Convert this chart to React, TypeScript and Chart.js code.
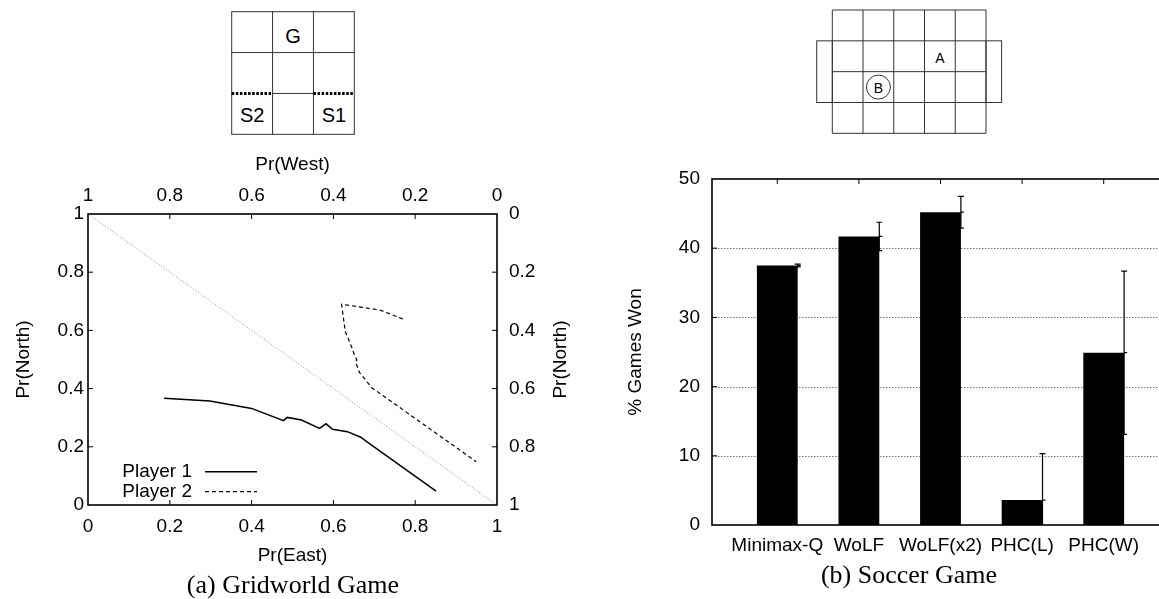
import React, { useEffect, useRef } from 'react';
import { Chart, registerables } from 'chart.js';

Chart.register(...registerables);

const SANS = "'Liberation Sans', Arial, Helvetica, sans-serif";
const SERIF = "'Liberation Serif', 'Times New Roman', serif";

// ---------- (a) Gridworld game ----------
const p1East = [0.186, 0.298, 0.4, 0.478, 0.487, 0.522, 0.566, 0.582, 0.598, 0.634, 0.667, 0.678, 0.851];
const p1North = [0.367, 0.357, 0.332, 0.29, 0.301, 0.292, 0.263, 0.279, 0.26, 0.252, 0.233, 0.221, 0.048];
const p2East = [0.77, 0.714, 0.62, 0.629, 0.641, 0.653, 0.657, 0.655, 0.664, 0.694, 0.949];
const p2North = [0.639, 0.67, 0.69, 0.596, 0.556, 0.51, 0.5, 0.488, 0.455, 0.403, 0.149];
const diagEast = [0, 1];
const diagNorth = [1, 0];
const playerNames = ['Player 1', 'Player 2'];
const axisEast = 'Pr(East)';
const axisWest = 'Pr(West)';
const axisNorth = 'Pr(North)';

// ---------- (b) Soccer game ----------
const algorithms = ['Minimax-Q', 'WoLF', 'WoLF(x2)', 'PHC(L)', 'PHC(W)'];
const gamesWon = [37.5, 41.7, 45.2, 3.6, 24.9];
const gamesWonErr = [0.2, 2.05, 2.3, 6.7, 11.8];
const axisWon = '% Games Won';

const captionA = '(a) Gridworld Game';
const captionB = '(b) Soccer Game';

const BAR_WIDTH = 0.5; // in x-units

Chart.defaults.color = '#000';
Chart.defaults.font.family = SANS;
Chart.defaults.font.size = 19;

const fmt = (v: any) => String(Number(Number(v).toFixed(3)));

function frameAndTicks(mirror: boolean, tickLen = 5) {
  return {
    id: 'frameAndTicks',
    afterDatasetsDraw(chart: any) {
      const { ctx, chartArea: a } = chart;
      ctx.save();
      ctx.strokeStyle = '#000';
      ctx.lineWidth = 1;
      ctx.setLineDash([]);
      ctx.beginPath();
      Object.values(chart.scales).forEach((s: any) => {
        const horiz = s.isHorizontal();
        const sides = mirror ? (horiz ? ['top', 'bottom'] : ['left', 'right']) : [s.position];
        s.ticks.forEach((t: any) => {
          if (t.value <= s.min || t.value >= s.max) return;
          const p = s.getPixelForValue(t.value);
          sides.forEach((side: string) => {
            if (side === 'bottom') { ctx.moveTo(p, a.bottom); ctx.lineTo(p, a.bottom - tickLen); }
            else if (side === 'top') { ctx.moveTo(p, a.top); ctx.lineTo(p, a.top + tickLen); }
            else if (side === 'left') { ctx.moveTo(a.left, p); ctx.lineTo(a.left + tickLen, p); }
            else { ctx.moveTo(a.right, p); ctx.lineTo(a.right - tickLen, p); }
          });
        });
      });
      ctx.stroke();
      ctx.lineWidth = 1.6;
      ctx.strokeRect(a.left, a.top, a.right - a.left, a.bottom - a.top);
      ctx.restore();
    },
  };
}

const sideTitle = {
  id: 'sideTitle',
  afterDraw(chart: any) {
    const { ctx, chartArea: a } = chart;
    ctx.save();
    ctx.translate(a.right + 64, (a.top + a.bottom) / 2);
    ctx.rotate(-Math.PI / 2);
    ctx.font = `19px ${SANS}`;
    ctx.fillStyle = '#000';
    ctx.textAlign = 'center';
    ctx.textBaseline = 'middle';
    ctx.fillText(axisNorth, 0, 0);
    ctx.restore();
  },
};

const insideLegend = {
  id: 'insideLegend',
  afterDatasetsDraw(chart: any) {
    const { ctx, chartArea: a } = chart;
    const entries = chart.data.datasets.filter((d: any) => d.label);
    ctx.save();
    entries.forEach((d: any, i: number) => {
      const y = a.bottom - 33.3 + i * 20;
      ctx.font = `19px ${SANS}`;
      ctx.fillStyle = '#000';
      ctx.textAlign = 'right';
      ctx.textBaseline = 'middle';
      ctx.fillText(d.label, a.left + 104, y);
      ctx.beginPath();
      ctx.setLineDash(d.borderDash || []);
      ctx.lineWidth = d.borderWidth;
      ctx.strokeStyle = d.borderColor;
      ctx.moveTo(a.left + 117, y);
      ctx.lineTo(a.left + 169, y);
      ctx.stroke();
    });
    ctx.restore();
  },
};

const gridLines = {
  id: 'gridLines',
  beforeDatasetsDraw(chart: any) {
    const { ctx, chartArea: a } = chart;
    const ys = chart.scales.y;
    ctx.save();
    ctx.strokeStyle = '#777';
    ctx.lineWidth = 1;
    ctx.setLineDash([1.5, 1.5]);
    ctx.beginPath();
    ys.ticks.forEach((t: any) => {
      if (t.value <= ys.min || t.value >= ys.max) return;
      const p = Math.round(ys.getPixelForValue(t.value)) + 0.5;
      ctx.moveTo(a.left, p);
      ctx.lineTo(a.right, p);
    });
    ctx.stroke();
    ctx.restore();
  },
};

const errorBars = {
  id: 'errorBars',
  afterDatasetsDraw(chart: any) {
    const { ctx, chartArea: a } = chart;
    const xs = chart.scales.x;
    const ys = chart.scales.y;
    ctx.save();
    ctx.beginPath();
    ctx.rect(a.left, a.top, a.right - a.left, a.bottom - a.top);
    ctx.clip();
    ctx.strokeStyle = '#000';
    ctx.lineWidth = 1.2;
    ctx.beginPath();
    gamesWon.forEach((v, i) => {
      const e = gamesWonErr[i];
      const x = xs.getPixelForValue(i + 1 + BAR_WIDTH / 2);
      const yT = ys.getPixelForValue(v + e);
      const yB = ys.getPixelForValue(v - e);
      const yV = ys.getPixelForValue(v);
      ctx.moveTo(x, yT); ctx.lineTo(x, yB);
      ctx.moveTo(x - 3, yT); ctx.lineTo(x + 3, yT);
      ctx.moveTo(x - 3, yB); ctx.lineTo(x + 3, yB);
      ctx.moveTo(x, yV); ctx.lineTo(x + 3, yV);
    });
    ctx.stroke();
    ctx.restore();
  },
};

const baseTicks = { autoSkip: false, maxRotation: 0, minRotation: 0, color: '#000', font: { size: 19, family: SANS } };

function GridworldChart() {
  const ref = useRef<HTMLCanvasElement>(null);
  useEffect(() => {
    const chart = new Chart(ref.current as HTMLCanvasElement, {
      type: 'scatter',
      data: {
        datasets: [
          {
            data: diagEast.map((x, i) => ({ x, y: diagNorth[i] })),
            showLine: true, borderColor: '#888', borderWidth: 1, borderDash: [1, 2], pointRadius: 0,
          },
          {
            label: playerNames[0],
            data: p1East.map((x, i) => ({ x, y: p1North[i] })),
            showLine: true, borderColor: '#000', borderWidth: 1.5, pointRadius: 0,
          },
          {
            label: playerNames[1],
            data: p2East.map((x, i) => ({ x, y: p2North[i] })),
            showLine: true, borderColor: '#000', borderWidth: 1.2, borderDash: [4, 3], pointRadius: 0,
          },
        ],
      } as any,
      options: {
        animation: false,
        responsive: false,
        events: [],
        layout: { padding: 0 },
        plugins: { legend: { display: false }, tooltip: { enabled: false } },
        scales: {
          x: {
            type: 'linear', position: 'bottom', min: 0, max: 1,
            grid: { display: false, drawTicks: false }, border: { display: false },
            ticks: { ...baseTicks, stepSize: 0.2, padding: 10, callback: fmt },
            title: { display: true, text: axisEast, font: { size: 19, family: SANS }, padding: { top: 0, bottom: 13 } },
            afterFit: (s: any) => { s.height = 75; },
          },
          x2: {
            type: 'linear', position: 'top', min: 0, max: 1, reverse: true,
            grid: { display: false, drawTicks: false }, border: { display: false },
            ticks: { ...baseTicks, stepSize: 0.2, padding: 7, callback: fmt },
            title: { display: true, text: axisWest, font: { size: 19, family: SANS }, padding: { top: 13, bottom: 0 } },
            afterFit: (s: any) => { s.height = 74; },
          },
          y: {
            type: 'linear', position: 'left', min: 0, max: 1,
            grid: { display: false, drawTicks: false }, border: { display: false },
            ticks: { ...baseTicks, stepSize: 0.2, padding: 4, callback: fmt },
            title: { display: true, text: axisNorth, font: { size: 19, family: SANS }, padding: { top: 12.5, bottom: 0 } },
            afterFit: (s: any) => { s.width = 88; },
          },
          y2: {
            type: 'linear', position: 'right', min: 0, max: 1, reverse: true,
            grid: { display: false, drawTicks: false }, border: { display: false },
            ticks: { ...baseTicks, stepSize: 0.2, padding: 12, callback: fmt },
            title: { display: false },
            afterFit: (s: any) => { s.width = 103; },
          },
        },
      } as any,
      plugins: [frameAndTicks(false), insideLegend, sideTitle],
    });
    return () => chart.destroy();
  }, []);
  return (
    <canvas ref={ref} width={600} height={440}
      style={{ position: 'absolute', left: 0, top: 140, width: 600, height: 440 }} />
  );
}

function SoccerChart() {
  const ref = useRef<HTMLCanvasElement>(null);
  useEffect(() => {
    const chart = new Chart(ref.current as HTMLCanvasElement, {
      type: 'bar',
      data: {
        datasets: [
          {
            label: axisWon,
            data: algorithms.map((_, i) => ({ x: i + 1, y: gamesWon[i] })),
            backgroundColor: '#000',
            borderWidth: 0,
            categoryPercentage: BAR_WIDTH,
            barPercentage: 1,
          },
        ],
      } as any,
      options: {
        animation: false,
        responsive: false,
        events: [],
        layout: { padding: { top: 29, left: 0, right: 0, bottom: 0 } },
        plugins: { legend: { display: false }, tooltip: { enabled: false } },
        scales: {
          x: {
            type: 'linear', position: 'bottom', min: 0.2, max: 5.8, offset: false,
            grid: { display: false, drawTicks: false }, border: { display: false },
            afterBuildTicks: (s: any) => { s.ticks = algorithms.map((_, i) => ({ value: i + 1 })); },
            ticks: { ...baseTicks, padding: 9, callback: (v: any) => algorithms[Math.round(v) - 1] ?? '' },
            afterFit: (s: any) => { s.height = 55; },
          },
          y: {
            type: 'linear', position: 'left', min: 0, max: 50,
            grid: { display: false, drawTicks: false }, border: { display: false },
            ticks: { ...baseTicks, stepSize: 10, padding: 12, callback: fmt },
            title: { display: true, text: axisWon, font: { size: 19, family: SANS }, padding: { top: 34, bottom: 0 } },
            afterFit: (s: any) => { s.width = 122; },
          },
        },
      } as any,
      plugins: [gridLines, errorBars, frameAndTicks(true)],
    });
    return () => chart.destroy();
  }, []);
  return (
    <canvas ref={ref} width={579} height={430}
      style={{ position: 'absolute', left: 590, top: 150, width: 579, height: 430 }} />
  );
}

function Diagrams() {
  const gx = 231.7, gy = 11.7, gc = 40.87;
  const sx = 832.3, sy = 10, sw = 30.74, sh = 30.83, ext = 15.6;
  const line = { stroke: '#333', strokeWidth: 1, fill: 'none' };
  const cols = [0, 1, 2, 3, 4, 5];
  const rows = [0, 1, 2, 3, 4];
  return (
    <svg width={1159} height={140} style={{ position: 'absolute', left: 0, top: 0 }}>
      {/* gridworld */}
      <rect x={gx} y={gy} width={3 * gc} height={3 * gc} {...line} />
      <line x1={gx + gc} y1={gy} x2={gx + gc} y2={gy + 3 * gc} {...line} />
      <line x1={gx + 2 * gc} y1={gy} x2={gx + 2 * gc} y2={gy + 3 * gc} {...line} />
      <line x1={gx} y1={gy + gc} x2={gx + 3 * gc} y2={gy + gc} {...line} />
      <line x1={gx + gc} y1={gy + 2 * gc} x2={gx + 2 * gc} y2={gy + 2 * gc} {...line} />
      <line x1={gx} y1={gy + 2 * gc} x2={gx + gc} y2={gy + 2 * gc} stroke="#000" strokeWidth={3} strokeDasharray="2.5 1.6" />
      <line x1={gx + 2 * gc} y1={gy + 2 * gc} x2={gx + 3 * gc} y2={gy + 2 * gc} stroke="#000" strokeWidth={3} strokeDasharray="2.5 1.6" />
      <g fontFamily={SANS} fontSize={20} textAnchor="middle" dominantBaseline="central" fill="#000">
        <text x={gx + 1.5 * gc} y={gy + 0.5 * gc + 4}>G</text>
        <text x={gx + 0.5 * gc} y={gy + 2.5 * gc + 1}>S2</text>
        <text x={gx + 2.5 * gc} y={gy + 2.5 * gc + 1}>S1</text>
      </g>
      {/* soccer field */}
      <rect x={sx - ext} y={sy + sh} width={ext} height={2 * sh} {...line} />
      <rect x={sx + 5 * sw} y={sy + sh} width={ext} height={2 * sh} {...line} />
      {cols.map((c) => (
        <line key={'c' + c} x1={sx + c * sw} y1={sy} x2={sx + c * sw} y2={sy + 4 * sh} {...line} />
      ))}
      {rows.map((r) => (
        <line key={'r' + r} x1={sx} y1={sy + r * sh} x2={sx + 5 * sw} y2={sy + r * sh} {...line} />
      ))}
      <circle cx={sx + 1.5 * sw} cy={sy + 2.5 * sh} r={12} {...line} />
      <g fontFamily={SANS} fontSize={14} textAnchor="middle" dominantBaseline="central" fill="#000">
        <text x={sx + 3.5 * sw} y={sy + 1.5 * sh + 2}>A</text>
        <text x={sx + 1.5 * sw} y={sy + 2.5 * sh + 1}>B</text>
      </g>
    </svg>
  );
}

export default function App() {
  const cap = { position: 'absolute' as const, width: 400, textAlign: 'center' as const, fontFamily: SERIF, fontSize: 26, lineHeight: '30px', color: '#000' };
  return (
    <div style={{ position: 'absolute', left: 0, top: 0, width: 1159, height: 599, overflow: 'hidden', background: '#fff' }}>
      <Diagrams />
      <GridworldChart />
      <SoccerChart />
      <div style={{ ...cap, left: 293 - 200, top: 585 - 15 }}>{captionA}</div>
      <div style={{ ...cap, left: 909 - 200, top: 575 - 15 }}>{captionB}</div>
    </div>
  );
}
